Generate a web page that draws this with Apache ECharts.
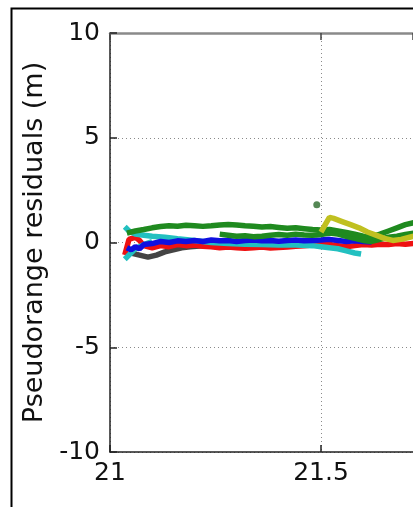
<!DOCTYPE html>
<html>
<head>
<meta charset="utf-8">
<script src="https://cdn.jsdelivr.net/npm/echarts@6/dist/echarts.min.js"></script>
<style>html,body{margin:0;padding:0;background:#fff;}#c{width:413px;height:507px;}</style>
</head>
<body>
<div id="c"></div>
<script>
// Tick values
var xTicks = [21, 21.5];
var yTicks = [-10, -5, 0, 5, 10];
var xMin = 21, xMax = 21.718;

// Satellite residual series (time, residual in m)
var greenAT = [21.04,21.06,21.08,21.10,21.12,21.14,21.16,21.18,21.20,21.22,21.24,21.26,21.28,21.30,21.32,21.34,21.36,21.38,21.40,21.42,21.44,21.46,21.48,21.50,21.52,21.54,21.56,21.58,21.60,21.62,21.64,21.66,21.68,21.70,21.72];
var greenAY = [0.45,0.55,0.62,0.70,0.76,0.80,0.78,0.82,0.80,0.77,0.80,0.84,0.86,0.84,0.80,0.78,0.74,0.76,0.72,0.68,0.70,0.66,0.62,0.60,0.62,0.55,0.48,0.40,0.30,0.28,0.40,0.55,0.70,0.85,0.95];

var greenBT = [21.26,21.28,21.30,21.32,21.34,21.36,21.38,21.40,21.42,21.44,21.46,21.48,21.50,21.52,21.54,21.56,21.58,21.60,21.62,21.64,21.66,21.68,21.70,21.72];
var greenBY = [0.40,0.35,0.30,0.32,0.28,0.30,0.35,0.38,0.35,0.40,0.36,0.35,0.38,0.45,0.40,0.30,0.20,0.10,0.05,0.15,0.25,0.30,0.38,0.45];

var greenOutT = [21.49];
var greenOutY = [1.8];

var yellowT = [21.50,21.51,21.52,21.53,21.55,21.57,21.59,21.61,21.63,21.65,21.67,21.69,21.71,21.72];
var yellowY = [0.50,0.85,1.20,1.15,1.00,0.85,0.70,0.50,0.35,0.20,0.10,0.15,0.25,0.30];

var blueT = [21.04,21.05,21.06,21.07,21.08,21.10,21.12,21.14,21.16,21.18,21.20,21.22,21.24,21.26,21.28,21.30,21.32,21.34,21.36,21.38,21.40,21.42,21.44,21.46,21.48,21.50,21.52,21.54,21.56,21.58,21.60,21.62];
var blueY = [-0.25,-0.35,-0.20,-0.30,-0.10,-0.05,0.05,0.00,0.08,0.05,0.10,0.05,0.12,0.08,0.10,0.05,0.10,0.12,0.08,0.10,0.06,0.10,0.12,0.08,0.10,0.12,0.15,0.10,0.05,0.08,0.05,0.02];

var redT = [21.035,21.045,21.06,21.07,21.08,21.10,21.12,21.14,21.16,21.18,21.20,21.22,21.24,21.26,21.28,21.30,21.32,21.34,21.36,21.38,21.40,21.42,21.44,21.46,21.48,21.50,21.52,21.54,21.56,21.58,21.60,21.62,21.64,21.66,21.68,21.70,21.72];
var redY = [-0.60,0.15,0.25,0.10,-0.15,-0.25,-0.15,-0.20,-0.10,-0.15,-0.12,-0.18,-0.20,-0.25,-0.22,-0.25,-0.28,-0.25,-0.22,-0.26,-0.24,-0.22,-0.18,-0.15,-0.12,-0.08,-0.10,-0.15,-0.20,-0.15,-0.10,-0.12,-0.08,-0.10,-0.05,-0.08,-0.05];

var grayT = [21.05,21.07,21.09,21.11,21.13,21.15,21.17,21.19,21.22,21.26,21.30];
var grayY = [-0.50,-0.60,-0.70,-0.60,-0.45,-0.35,-0.25,-0.20,-0.15,-0.10,-0.12];

var cyanAT = [21.035,21.045,21.06,21.08,21.10,21.13,21.16,21.20,21.24,21.28,21.32,21.36,21.40,21.44,21.48,21.50,21.52,21.54,21.56,21.58,21.595];
var cyanAY = [0.75,0.55,0.40,0.35,0.30,0.25,0.18,0.10,0.00,-0.05,-0.08,-0.10,-0.12,-0.12,-0.15,-0.20,-0.25,-0.30,-0.40,-0.50,-0.55];

var cyanBT = [21.035,21.045,21.06,21.08,21.10];
var cyanBY = [-0.80,-0.60,-0.30,-0.10,0.05];

function pairs(t, y) { return t.map(function (v, i) { return [v, y[i]]; }); }

function lineSeries(name, t, y, color) {
  return {
    name: name, type: 'line', data: pairs(t, y), showSymbol: false, symbol: 'none',
    lineStyle: { color: color, width: 5.5 }, itemStyle: { color: color },
    animation: false, silent: true
  };
}

var font = 'DejaVu Sans';
var chart = echarts.init(document.getElementById('c'), null, { renderer: 'canvas' });
chart.setOption({
  animation: false,
  backgroundColor: '#fff',
  graphic: [{
    type: 'rect', left: 9, top: 6, z: -10,
    shape: { width: 600, height: 600 },
    style: { fill: 'none', stroke: '#000', lineWidth: 2 }
  }],
  grid: { left: 110, top: 33, right: 0, bottom: 55, containLabel: false },
  xAxis: [{
    type: 'value', min: xMin, max: xMax, interval: 0.5, position: 'bottom',
    axisLine: { show: true, onZero: false, lineStyle: { color: '#222', width: 1.5 } },
    axisTick: { show: true, inside: true, length: 7, lineStyle: { color: '#222', width: 1.5 } },
    axisLabel: { show: true, color: '#111', fontSize: 25, fontFamily: font, margin: 9,
      showMaxLabel: false,
      formatter: function (v) { return xTicks.indexOf(v) >= 0 ? String(v) : ''; } },
    splitLine: { show: true, lineStyle: { color: '#8a8a8a', width: 1, type: [1, 3] } }
  }, {
    type: 'value', min: xMin, max: xMax, interval: 0.5, position: 'top',
    axisLine: { show: true, onZero: false, lineStyle: { color: '#8a8a8a', width: 2.5 } },
    axisTick: { show: true, inside: true, length: 7, lineStyle: { color: '#444', width: 1.5 } },
    axisLabel: { show: false }, splitLine: { show: false }
  }],
  yAxis: [{
    type: 'value', min: -10, max: 10, interval: 5,
    name: 'Pseudorange residuals (m)', nameLocation: 'middle', nameGap: 61,
    nameTextStyle: { color: '#111', fontSize: 27, fontFamily: font },
    axisLine: { show: true, onZero: false, lineStyle: { color: '#222', width: 1.5 } },
    axisTick: { show: true, inside: true, length: 7, lineStyle: { color: '#222', width: 1.5 } },
    axisLabel: { show: true, color: '#111', fontSize: 25, fontFamily: font, margin: 10,
      formatter: function (v) { return yTicks.indexOf(v) >= 0 ? String(v) : ''; } },
    splitLine: { show: true, lineStyle: { color: '#8a8a8a', width: 1, type: [1, 3] } }
  }],
  series: [
    lineSeries('gray', grayT, grayY, '#444444'),
    lineSeries('red', redT, redY, '#ee1111'),
    lineSeries('cyanB', cyanBT, cyanBY, '#22c0c0'),
    lineSeries('cyanA', cyanAT, cyanAY, '#22c0c0'),
    lineSeries('blue', blueT, blueY, '#1010e0'),
    lineSeries('greenB', greenBT, greenBY, '#1f8a1f'),
    lineSeries('greenA', greenAT, greenAY, '#1f8a1f'),
    {
      name: 'greenOut', type: 'scatter', data: pairs(greenOutT, greenOutY),
      symbol: 'circle', symbolSize: 7, itemStyle: { color: '#2a6a2a' }, silent: true
    },
    lineSeries('yellow', yellowT, yellowY, '#c0c020')
  ]
});
</script>
</body>
</html>
